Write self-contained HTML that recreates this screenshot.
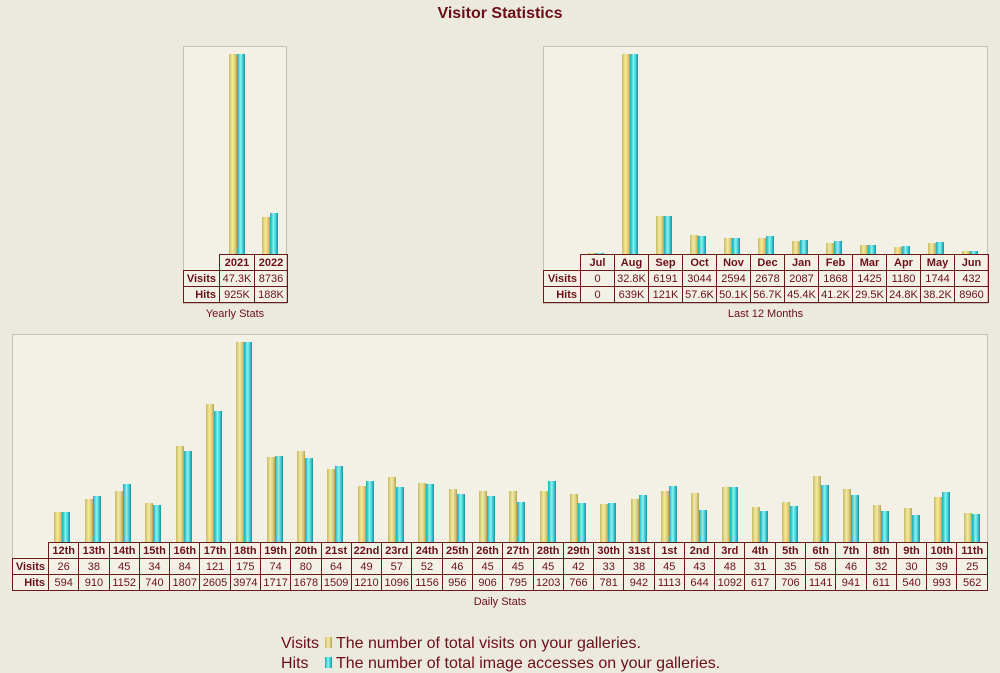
<!DOCTYPE html>
<html><head><meta charset="utf-8"><style>
body{margin:0;width:1000px;height:673px;background:#ece9df;font-family:"Liberation Sans",sans-serif;position:relative;overflow:hidden;color:#6b0f16}
.t{position:absolute;left:0;width:1000px;top:5px;text-align:center;font-weight:bold;font-size:16px}
.p{position:absolute;background:#f3f1e6;border:1px solid #c4c1b5;box-sizing:border-box}
.v,.h{position:absolute;width:8px}
.v{background:linear-gradient(90deg,#c9bb62,#f1e9a6 45%,#d9cd80 75%,#b3a34c)}
.h{background:linear-gradient(90deg,#1fa7b0,#8af3f5 45%,#3cc9d2 75%,#168f99)}
table{position:absolute;border-collapse:collapse;font-size:11px;table-layout:fixed}
td{border:1px solid #6b1a1a;height:16px;padding:0;text-align:center;color:#6b0f16;box-sizing:border-box;line-height:14px}
tr:first-child td{font-weight:bold}
td.l{font-weight:bold;text-align:right;padding-right:3px}
td.e{border:none}
.c{position:absolute;font-size:11px;text-align:center}
.lg{position:absolute;left:281px;font-size:16px}
.sw{display:inline-block;width:7px;height:11px;margin:0 4px 0 6px}
</style></head><body>
<div class="t">Visitor Statistics</div>

<div class="p" style="left:183px;top:46px;width:104px;height:258px"></div>
<div class="p" style="left:543px;top:46px;width:445px;height:258px"></div>
<div class="p" style="left:12px;top:334px;width:976px;height:257px"></div>

<div class="v" style="left:229px;bottom:419px;height:200px"></div><div class="h" style="left:237px;bottom:419px;height:200px"></div>
<div class="v" style="left:262px;bottom:419px;height:37px"></div><div class="h" style="left:270px;bottom:419px;height:41px"></div>
<table style="left:183px;top:254px;width:104px"><colgroup><col style="width:36px"><col style="width:35px"><col style="width:33px"></colgroup>
<tr><td class="e"></td><td>2021</td><td>2022</td></tr>
<tr><td class="l">Visits</td><td>47.3K</td><td>8736</td></tr>
<tr><td class="l">Hits</td><td>925K</td><td>188K</td></tr></table>
<div class="c" style="left:183px;width:104px;top:308px">Yearly Stats</div>

<div class="v" style="left:588px;bottom:419px;height:1px"></div><div class="h" style="left:596px;bottom:419px;height:1px"></div>
<div class="v" style="left:622px;bottom:419px;height:200px"></div><div class="h" style="left:630px;bottom:419px;height:200px"></div>
<div class="v" style="left:656px;bottom:419px;height:38px"></div><div class="h" style="left:664px;bottom:419px;height:38px"></div>
<div class="v" style="left:690px;bottom:419px;height:19px"></div><div class="h" style="left:698px;bottom:419px;height:18px"></div>
<div class="v" style="left:724px;bottom:419px;height:16px"></div><div class="h" style="left:732px;bottom:419px;height:16px"></div>
<div class="v" style="left:758px;bottom:419px;height:16px"></div><div class="h" style="left:766px;bottom:419px;height:18px"></div>
<div class="v" style="left:792px;bottom:419px;height:13px"></div><div class="h" style="left:800px;bottom:419px;height:14px"></div>
<div class="v" style="left:826px;bottom:419px;height:11px"></div><div class="h" style="left:834px;bottom:419px;height:13px"></div>
<div class="v" style="left:860px;bottom:419px;height:9px"></div><div class="h" style="left:868px;bottom:419px;height:9px"></div>
<div class="v" style="left:894px;bottom:419px;height:7px"></div><div class="h" style="left:902px;bottom:419px;height:8px"></div>
<div class="v" style="left:928px;bottom:419px;height:11px"></div><div class="h" style="left:936px;bottom:419px;height:12px"></div>
<div class="v" style="left:962px;bottom:419px;height:3px"></div><div class="h" style="left:970px;bottom:419px;height:3px"></div>
<table style="left:543px;top:254px;width:445px"><colgroup><col style="width:37px"><col span="12" style="width:34px"></colgroup>
<tr><td class="e"></td><td>Jul</td><td>Aug</td><td>Sep</td><td>Oct</td><td>Nov</td><td>Dec</td><td>Jan</td><td>Feb</td><td>Mar</td><td>Apr</td><td>May</td><td>Jun</td></tr>
<tr><td class="l">Visits</td><td>0</td><td>32.8K</td><td>6191</td><td>3044</td><td>2594</td><td>2678</td><td>2087</td><td>1868</td><td>1425</td><td>1180</td><td>1744</td><td>432</td></tr>
<tr><td class="l">Hits</td><td>0</td><td>639K</td><td>121K</td><td>57.6K</td><td>50.1K</td><td>56.7K</td><td>45.4K</td><td>41.2K</td><td>29.5K</td><td>24.8K</td><td>38.2K</td><td>8960</td></tr></table>
<div class="c" style="left:543px;width:445px;top:308px">Last 12 Months</div>

<div class="v" style="left:54px;bottom:131px;height:30px"></div><div class="h" style="left:62px;bottom:131px;height:30px"></div>
<div class="v" style="left:85px;bottom:131px;height:43px"></div><div class="h" style="left:93px;bottom:131px;height:46px"></div>
<div class="v" style="left:115px;bottom:131px;height:51px"></div><div class="h" style="left:123px;bottom:131px;height:58px"></div>
<div class="v" style="left:145px;bottom:131px;height:39px"></div><div class="h" style="left:153px;bottom:131px;height:37px"></div>
<div class="v" style="left:176px;bottom:131px;height:96px"></div><div class="h" style="left:184px;bottom:131px;height:91px"></div>
<div class="v" style="left:206px;bottom:131px;height:138px"></div><div class="h" style="left:214px;bottom:131px;height:131px"></div>
<div class="v" style="left:236px;bottom:131px;height:200px"></div><div class="h" style="left:244px;bottom:131px;height:200px"></div>
<div class="v" style="left:267px;bottom:131px;height:85px"></div><div class="h" style="left:275px;bottom:131px;height:86px"></div>
<div class="v" style="left:297px;bottom:131px;height:91px"></div><div class="h" style="left:305px;bottom:131px;height:84px"></div>
<div class="v" style="left:327px;bottom:131px;height:73px"></div><div class="h" style="left:335px;bottom:131px;height:76px"></div>
<div class="v" style="left:358px;bottom:131px;height:56px"></div><div class="h" style="left:366px;bottom:131px;height:61px"></div>
<div class="v" style="left:388px;bottom:131px;height:65px"></div><div class="h" style="left:396px;bottom:131px;height:55px"></div>
<div class="v" style="left:418px;bottom:131px;height:59px"></div><div class="h" style="left:426px;bottom:131px;height:58px"></div>
<div class="v" style="left:449px;bottom:131px;height:53px"></div><div class="h" style="left:457px;bottom:131px;height:48px"></div>
<div class="v" style="left:479px;bottom:131px;height:51px"></div><div class="h" style="left:487px;bottom:131px;height:46px"></div>
<div class="v" style="left:509px;bottom:131px;height:51px"></div><div class="h" style="left:517px;bottom:131px;height:40px"></div>
<div class="v" style="left:540px;bottom:131px;height:51px"></div><div class="h" style="left:548px;bottom:131px;height:61px"></div>
<div class="v" style="left:570px;bottom:131px;height:48px"></div><div class="h" style="left:578px;bottom:131px;height:39px"></div>
<div class="v" style="left:600px;bottom:131px;height:38px"></div><div class="h" style="left:608px;bottom:131px;height:39px"></div>
<div class="v" style="left:631px;bottom:131px;height:43px"></div><div class="h" style="left:639px;bottom:131px;height:47px"></div>
<div class="v" style="left:661px;bottom:131px;height:51px"></div><div class="h" style="left:669px;bottom:131px;height:56px"></div>
<div class="v" style="left:691px;bottom:131px;height:49px"></div><div class="h" style="left:699px;bottom:131px;height:32px"></div>
<div class="v" style="left:722px;bottom:131px;height:55px"></div><div class="h" style="left:730px;bottom:131px;height:55px"></div>
<div class="v" style="left:752px;bottom:131px;height:35px"></div><div class="h" style="left:760px;bottom:131px;height:31px"></div>
<div class="v" style="left:782px;bottom:131px;height:40px"></div><div class="h" style="left:790px;bottom:131px;height:36px"></div>
<div class="v" style="left:813px;bottom:131px;height:66px"></div><div class="h" style="left:821px;bottom:131px;height:57px"></div>
<div class="v" style="left:843px;bottom:131px;height:53px"></div><div class="h" style="left:851px;bottom:131px;height:47px"></div>
<div class="v" style="left:873px;bottom:131px;height:37px"></div><div class="h" style="left:881px;bottom:131px;height:31px"></div>
<div class="v" style="left:904px;bottom:131px;height:34px"></div><div class="h" style="left:912px;bottom:131px;height:27px"></div>
<div class="v" style="left:934px;bottom:131px;height:45px"></div><div class="h" style="left:942px;bottom:131px;height:50px"></div>
<div class="v" style="left:964px;bottom:131px;height:29px"></div><div class="h" style="left:972px;bottom:131px;height:28px"></div>
<table style="left:12px;top:542px;width:976px"><colgroup><col style="width:36px"><col span="31"></colgroup>
<tr><td class="e"></td><td>12th</td><td>13th</td><td>14th</td><td>15th</td><td>16th</td><td>17th</td><td>18th</td><td>19th</td><td>20th</td><td>21st</td><td>22nd</td><td>23rd</td><td>24th</td><td>25th</td><td>26th</td><td>27th</td><td>28th</td><td>29th</td><td>30th</td><td>31st</td><td>1st</td><td>2nd</td><td>3rd</td><td>4th</td><td>5th</td><td>6th</td><td>7th</td><td>8th</td><td>9th</td><td>10th</td><td>11th</td></tr>
<tr><td class="l">Visits</td><td>26</td><td>38</td><td>45</td><td>34</td><td>84</td><td>121</td><td>175</td><td>74</td><td>80</td><td>64</td><td>49</td><td>57</td><td>52</td><td>46</td><td>45</td><td>45</td><td>45</td><td>42</td><td>33</td><td>38</td><td>45</td><td>43</td><td>48</td><td>31</td><td>35</td><td>58</td><td>46</td><td>32</td><td>30</td><td>39</td><td>25</td></tr>
<tr><td class="l">Hits</td><td>594</td><td>910</td><td>1152</td><td>740</td><td>1807</td><td>2605</td><td>3974</td><td>1717</td><td>1678</td><td>1509</td><td>1210</td><td>1096</td><td>1156</td><td>956</td><td>906</td><td>795</td><td>1203</td><td>766</td><td>781</td><td>942</td><td>1113</td><td>644</td><td>1092</td><td>617</td><td>706</td><td>1141</td><td>941</td><td>611</td><td>540</td><td>993</td><td>562</td></tr></table>
<div class="c" style="left:12px;width:976px;top:596px">Daily Stats</div>

<div class="lg" style="top:635px">Visits<span class="sw v" style="position:static;width:7px"></span>The number of total visits on your galleries.</div>
<div class="lg" style="top:655px"><span style="display:inline-block;width:38px">Hits</span><span class="sw h" style="position:static;width:7px"></span>The number of total image accesses on your galleries.</div>
</body></html>
